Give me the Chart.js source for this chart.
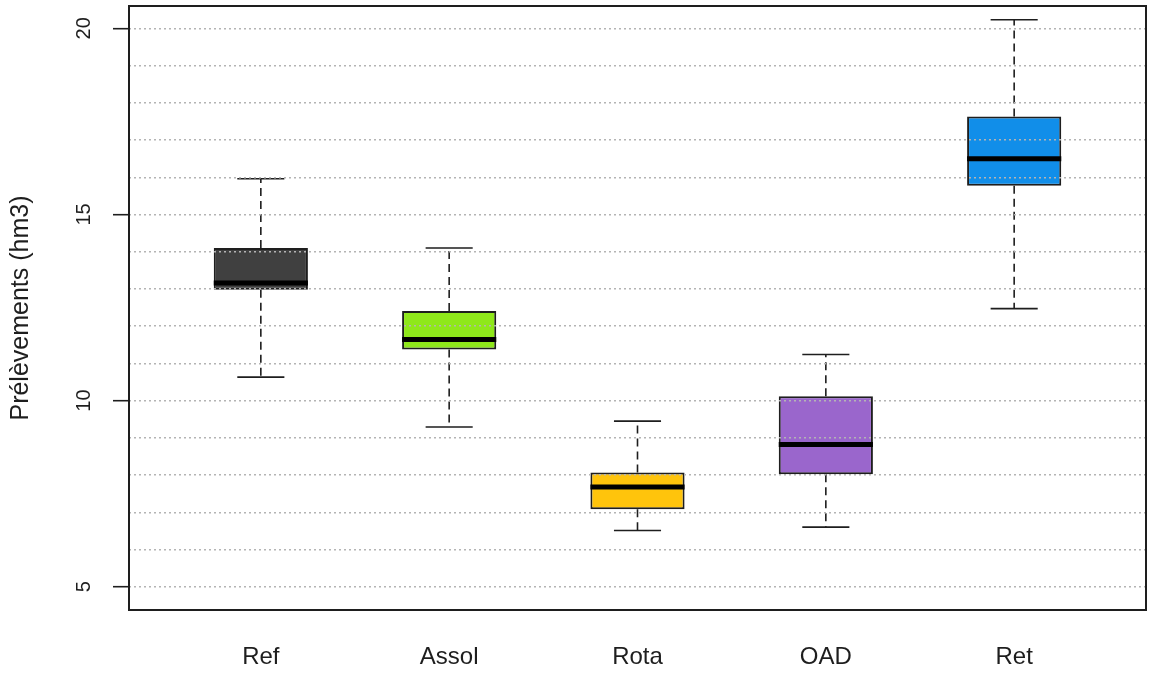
<!DOCTYPE html>
<html>
<head>
<meta charset="utf-8">
<script src="https://cdn.jsdelivr.net/npm/chart.js@4/dist/chart.umd.min.js"></script>
<style>
  html, body { margin: 0; padding: 0; background: #fff; }
  #wrap { width: 1149px; height: 673px; }
</style>
</head>
<body>
<div id="wrap"><canvas id="chart"></canvas></div>
<script>
// Box plot values (hm3), one entry per scenario
const categories = ["Ref", "Assol", "Rota", "OAD", "Ret"];
const whiskerLow = [10.63, 9.29, 6.51, 6.60, 12.47];
const q1 = [12.98, 11.37, 7.08, 8.02, 15.77];
const median = [13.16, 11.64, 7.68, 8.82, 16.50];
const q3 = [14.10, 12.41, 8.07, 10.12, 17.63];
const whiskerHigh = [15.96, 14.10, 9.45, 11.24, 20.23];
const yTickLabels = [5, 10, 15, 20];

const boxColors = ["#404040", "#8FE81A", "#FFC40C", "#9A66CC", "#118EE9"];
const ink = "#1e1e1e";
const fontFamily = "'Liberation Sans', Arial, sans-serif";
const halfBox = 0.25;
const halfCap = 0.125;

// dotted grid at every whole value between the labelled ticks
const gridValues = [];
for (let v = yTickLabels[0]; v <= yTickLabels[yTickLabels.length - 1]; v++) gridValues.push(v);

const positions = categories.map((c, i) => i + 1);

// line segments, a null point breaks the line
const whiskerPts = [];
const capPts = [];
const medianPts = [];
positions.forEach((x, i) => {
  whiskerPts.push({x, y: q3[i]}, {x, y: whiskerHigh[i]}, {x, y: null});
  whiskerPts.push({x, y: q1[i]}, {x, y: whiskerLow[i]}, {x, y: null});
  capPts.push({x: x - halfCap, y: whiskerHigh[i]}, {x: x + halfCap, y: whiskerHigh[i]}, {x, y: null});
  capPts.push({x: x - halfCap, y: whiskerLow[i]}, {x: x + halfCap, y: whiskerLow[i]}, {x, y: null});
  medianPts.push({x: x - halfBox, y: median[i]}, {x: x + halfBox, y: median[i]}, {x, y: null});
});

/* =========================
   FRAME AROUND PLOT AREA
========================= */
const frame = {
  id: "frame",
  afterDraw(chart) {
    const {ctx, chartArea: a} = chart;
    ctx.save();
    ctx.strokeStyle = ink;
    ctx.lineWidth = 2;
    ctx.strokeRect(a.left, a.top, a.right - a.left, a.bottom - a.top);
    ctx.restore();
  }
};

new Chart(document.getElementById("chart"), {
  type: "bar",
  data: {
    datasets: [
      {
        type: "line", label: "median", data: medianPts,
        borderColor: "#000", borderWidth: 5, borderCapStyle: "butt",
        pointRadius: 0, spanGaps: false, order: 0
      },
      {
        type: "line", label: "caps", data: capPts,
        borderColor: ink, borderWidth: 1.6, pointRadius: 0, spanGaps: false, order: 1
      },
      {
        type: "line", label: "whiskers", data: whiskerPts,
        borderColor: ink, borderWidth: 1.6, borderDash: [8, 5],
        pointRadius: 0, spanGaps: false, order: 2
      },
      {
        label: "box",
        data: positions.map((x, i) => ({x, y: [q1[i], q3[i]]})),
        backgroundColor: boxColors, borderColor: ink, borderWidth: 2,
        borderSkipped: false, categoryPercentage: 1, barPercentage: 0.5, order: 3
      }
    ]
  },
  options: {
    responsive: true,
    maintainAspectRatio: false,
    animation: false,
    layout: { padding: { top: 6, right: 3, left: 0, bottom: 0 } },
    plugins: { legend: { display: false }, tooltip: { enabled: false } },
    scales: {
      x: {
        type: "linear", min: 0.3, max: 5.7, offset: false,
        afterBuildTicks: s => { s.ticks = positions.map(v => ({value: v})); },
        afterFit: s => { s.height = 63; s.paddingLeft = 0; s.paddingRight = 0; },
        grid: { display: false, drawTicks: false },
        border: { display: false },
        ticks: {
          autoSkip: false, maxRotation: 0, padding: 33, color: ink,
          font: { family: fontFamily, size: 24 },
          callback: v => categories[v - 1] ?? ""
        }
      },
      y: {
        min: 4.375, max: 20.6, beginAtZero: false,
        afterBuildTicks: s => { s.ticks = gridValues.map(v => ({value: v})); },
        afterFit: s => { s.width = 129; s.paddingTop = 0; s.paddingBottom = 0; },
        grid: {
          z: 1, color: "#b4b4b4", lineWidth: 1.4,
          tickLength: 16, tickWidth: 1.6, tickBorderDash: [],
          tickColor: c => yTickLabels.includes(c.tick.value) ? ink : "rgba(0,0,0,0)"
        },
        border: { display: false, dash: [2, 3] },
        ticks: {
          autoSkip: false, minRotation: 90, maxRotation: 90, crossAlign: "center",
          padding: 17, color: ink,
          font: { family: fontFamily, size: 20 },
          callback: v => yTickLabels.includes(v) ? String(v) : ""
        },
        title: {
          display: true, text: "Prélèvements (hm3)", color: ink,
          font: { family: fontFamily, size: 25 },
          padding: { top: 6, bottom: 0 }
        }
      }
    }
  },
  plugins: [frame]
});
</script>
</body>
</html>
